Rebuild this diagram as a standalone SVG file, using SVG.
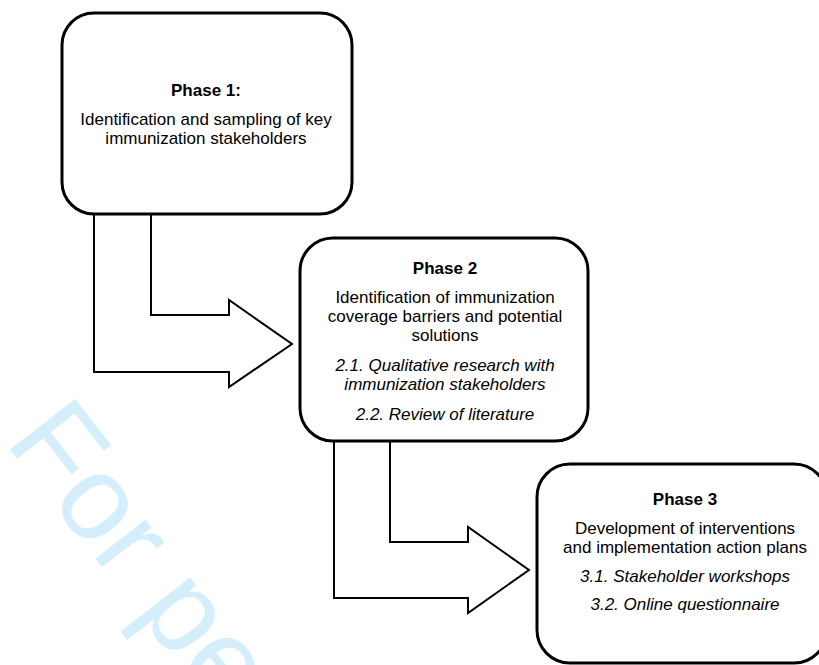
<svg xmlns="http://www.w3.org/2000/svg" width="819" height="665" viewBox="0 0 819 665">
  <style>
    .box { fill: #ffffff; stroke: #000000; stroke-width: 3; }
    .arrow { fill: #ffffff; stroke: #000000; stroke-width: 2; stroke-linejoin: miter; }
    text { font-family: "Liberation Sans", Arial, sans-serif; font-size: 17px; fill: #000000; text-anchor: middle; }
    .b { font-weight: bold; }
    .i { font-style: italic; }
    .wm { font-size: 120px; fill: #d4eefb; text-anchor: start; }
  </style>
  <rect width="819" height="665" fill="#ffffff"/>
  <text class="wm" x="4" y="442" transform="rotate(52 4 442)">For pe</text>
  <g id="connectors">
    <path class="arrow" d="M94,214 V372 H229 V387 L292,344 L229,300 V315 H151 V214"/>
    <path class="arrow" d="M334,441 V598 H468 V613 L529,570 L468,527 V542 H390 V441"/>
  </g>
  <g id="phase1">
    <rect class="box" x="62" y="13" width="290" height="201" rx="32"/>
    <text class="b" x="206" y="96">Phase 1:</text>
    <text x="206" y="125">Identification and sampling of key</text>
    <text x="206" y="144">immunization stakeholders</text>
  </g>
  <g id="phase2">
    <rect class="box" x="300" y="238" width="288" height="203" rx="33"/>
    <text class="b" x="445" y="274">Phase 2</text>
    <text x="445" y="303">Identification of immunization</text>
    <text x="445" y="322">coverage barriers and potential</text>
    <text x="445" y="341">solutions</text>
    <text class="i" x="445" y="371">2.1. Qualitative research with</text>
    <text class="i" x="445" y="390">immunization stakeholders</text>
    <text class="i" x="445" y="420">2.2. Review of literature</text>
  </g>
  <g id="phase3">
    <rect class="box" x="537" y="464" width="290" height="199" rx="33"/>
    <text class="b" x="685" y="505">Phase 3</text>
    <text x="685" y="534">Development of interventions</text>
    <text x="685" y="553">and implementation action plans</text>
    <text class="i" x="685" y="582">3.1. Stakeholder workshops</text>
    <text class="i" x="685" y="610">3.2. Online questionnaire</text>
  </g>
</svg>
